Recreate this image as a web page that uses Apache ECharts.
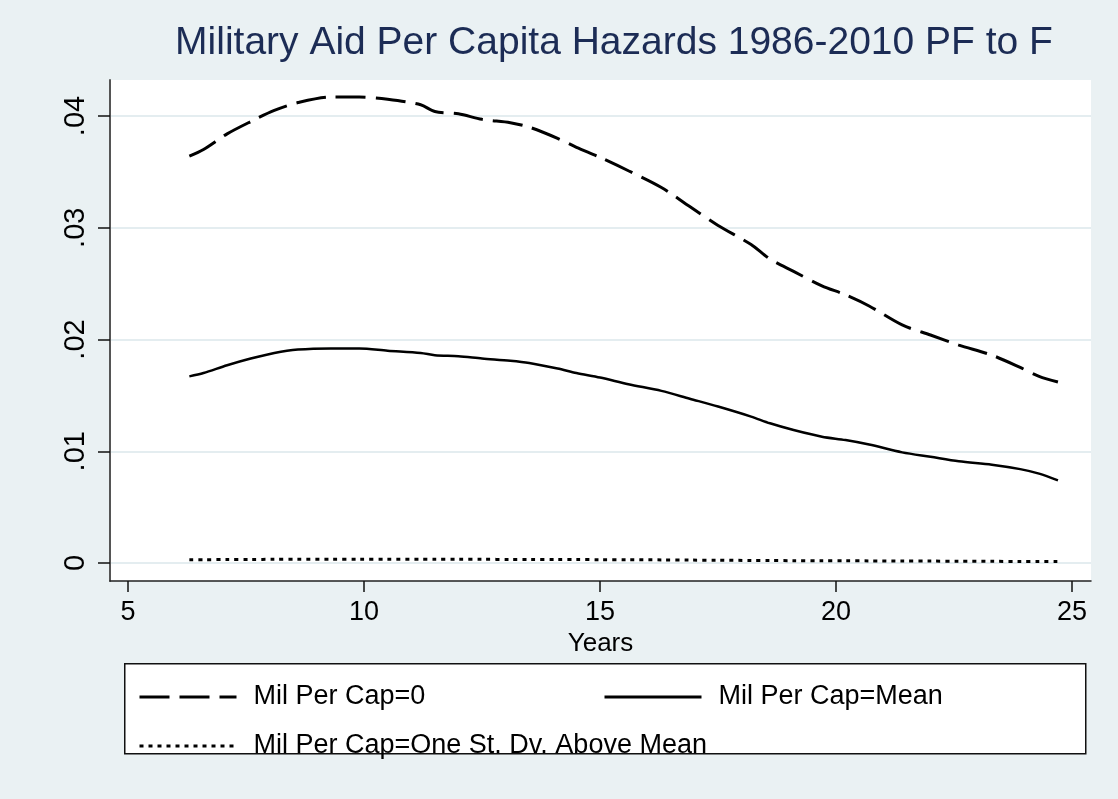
<!DOCTYPE html>
<html>
<head>
<meta charset="utf-8">
<title>Military Aid Per Capita Hazards</title>
<script src="https://cdn.jsdelivr.net/npm/echarts@6/dist/echarts.min.js"></script>
<style>
  html, body { margin: 0; padding: 0; background: #EAF1F3; }
  #chart { width: 1118px; height: 799px; }
</style>
</head>
<body>
<div id="chart"></div>
<script>
// Analysis time (years) at which the hazards were evaluated
const years = [6.3, 6.6, 7.1, 7.6, 8.1, 8.6, 9.3, 9.9, 10.5, 11.2, 11.5, 12.0, 12.5, 13.1, 13.5,
  14.1, 14.5, 15.0, 15.6, 16.3, 16.9, 17.5, 18.2, 18.6, 19.1, 19.7, 20.2, 20.7, 21.4, 22.0,
  22.6, 23.3, 23.9, 24.3, 24.7];

// Smoothed hazard, military aid per capita = 0
const hazardZero = [0.0364, 0.0370, 0.0384, 0.0395, 0.0405, 0.0412, 0.0417, 0.0417, 0.0415, 0.0410,
  0.0404, 0.0402, 0.0397, 0.0394, 0.0390, 0.0380, 0.0372, 0.0363, 0.0351, 0.0336, 0.0319, 0.0302,
  0.0285, 0.0272, 0.0261, 0.0248, 0.0240, 0.0230, 0.0213, 0.0204, 0.0195, 0.0186, 0.0175, 0.0167, 0.0162];

// Smoothed hazard, military aid per capita at its mean
const hazardMean = [0.0167, 0.0170, 0.0177, 0.0183, 0.0188, 0.0191, 0.0192, 0.0192, 0.0190, 0.0188,
  0.0186, 0.0185, 0.0183, 0.0181, 0.0179, 0.0174, 0.0170, 0.0166, 0.0160, 0.0154, 0.0147, 0.0140,
  0.0131, 0.0125, 0.0119, 0.0113, 0.0110, 0.0106, 0.0099, 0.0095, 0.0091, 0.0088, 0.0084, 0.0080, 0.0074];

// Smoothed hazard, military aid per capita one standard deviation above the mean
const hazardHigh = [0.00030, 0.00030, 0.00031, 0.00032, 0.00033, 0.00034, 0.00034, 0.00034, 0.00034, 0.00034,
  0.00033, 0.00033, 0.00033, 0.00032, 0.00032, 0.00031, 0.00031, 0.00030, 0.00029, 0.00028, 0.00026, 0.00025,
  0.00023, 0.00022, 0.00021, 0.00020, 0.00020, 0.00019, 0.00017, 0.00017, 0.00016, 0.00015, 0.00014, 0.00014, 0.00013];

const xTicks = [5, 10, 15, 20, 25];
const yTicks = [0, 0.01, 0.02, 0.03, 0.04];

const seriesNames = ['Mil Per Cap=0', 'Mil Per Cap=Mean', 'Mil Per Cap=One St. Dv. Above Mean'];
const titleText = 'Military Aid Per Capita Hazards 1986-2010 PF to F';
const xTitle = 'Years';

const FONT = '"Liberation Sans", Arial, Helvetica, sans-serif';
const pair = (vals) => years.map((x, i) => [x, vals[i]]);

const dashZero = [30, 10];
const dashHigh = [4, 5];

const chart = echarts.init(document.getElementById('chart'), null, { renderer: 'canvas' });

// Legend entries show only the line sample, no marker
const legendBase = {
  orient: 'horizontal',
  padding: 0,
  itemWidth: 97,
  itemHeight: 14,
  itemStyle: { opacity: 0 },
  lineStyle: { width: 3 },
  textStyle: { fontFamily: FONT, fontSize: 27, color: '#000', lineHeight: 30, padding: [0, 0, 0, 12] },
  selectedMode: false
};

chart.setOption({
  backgroundColor: '#EAF1F3',
  animation: false,
  title: {
    text: titleText,
    left: 609,
    top: 19,
    textAlign: 'center',
    textStyle: { fontFamily: FONT, fontSize: 39, fontWeight: 'normal', color: '#1C2C55' }
  },
  graphic: [{
    type: 'rect',
    left: 124, top: 663,
    shape: { width: 961, height: 90 },
    style: { fill: '#ffffff', stroke: '#111111', lineWidth: 1.5 },
    z: -1
  }],
  legend: [
    Object.assign({}, legendBase, { left: 138, top: 682, data: [seriesNames[0]] }),
    Object.assign({}, legendBase, { left: 603, top: 682, data: [seriesNames[1]] }),
    Object.assign({}, legendBase, { left: 138, top: 731, data: [seriesNames[2]] })
  ],
  grid: {
    left: 110, top: 80, right: 27, bottom: 218,
    show: true, backgroundColor: '#ffffff', borderWidth: 0
  },
  xAxis: {
    type: 'value',
    min: 4.619, max: 25.40,
    name: xTitle,
    nameLocation: 'middle',
    nameGap: 42,
    nameTextStyle: { fontFamily: FONT, fontSize: 26, color: '#000' },
    axisLine: { show: true, onZero: false, lineStyle: { color: '#222', width: 1.5 } },
    axisTick: { show: true, length: 11, customValues: xTicks, lineStyle: { color: '#111', width: 1.5 } },
    axisLabel: { customValues: xTicks, margin: 18, fontFamily: FONT, fontSize: 27, color: '#000' },
    splitLine: { show: false }
  },
  yAxis: {
    type: 'value',
    min: -0.00161, max: 0.04322,
    axisLine: { show: true, lineStyle: { color: '#555', width: 2 } },
    axisTick: { show: true, length: 12, customValues: yTicks, lineStyle: { color: '#111', width: 1.5 } },
    axisLabel: {
      customValues: yTicks, rotate: 90, margin: 20, fontFamily: FONT, fontSize: 29, color: '#000',
      formatter: (v) => (v === 0 ? '0' : String(+v.toFixed(2)).replace(/^0/, ''))
    },
    splitLine: { show: true, lineStyle: { color: '#E4EDF0', width: 2 } }
  },
  series: [
    {
      name: seriesNames[0], type: 'line', data: pair(hazardZero), showSymbol: false, symbol: 'none',
      smooth: 0.3, lineStyle: { color: '#000', width: 3, type: dashZero }, itemStyle: { color: '#000' }
    },
    {
      name: seriesNames[1], type: 'line', data: pair(hazardMean), showSymbol: false, symbol: 'none',
      smooth: 0.3, lineStyle: { color: '#000', width: 2.5, type: 'solid' }, itemStyle: { color: '#000' }
    },
    {
      name: seriesNames[2], type: 'line', data: pair(hazardHigh), showSymbol: false, symbol: 'none',
      smooth: 0.3, lineStyle: { color: '#000', width: 3, type: dashHigh }, itemStyle: { color: '#000' }
    }
  ]
});
</script>
</body>
</html>
